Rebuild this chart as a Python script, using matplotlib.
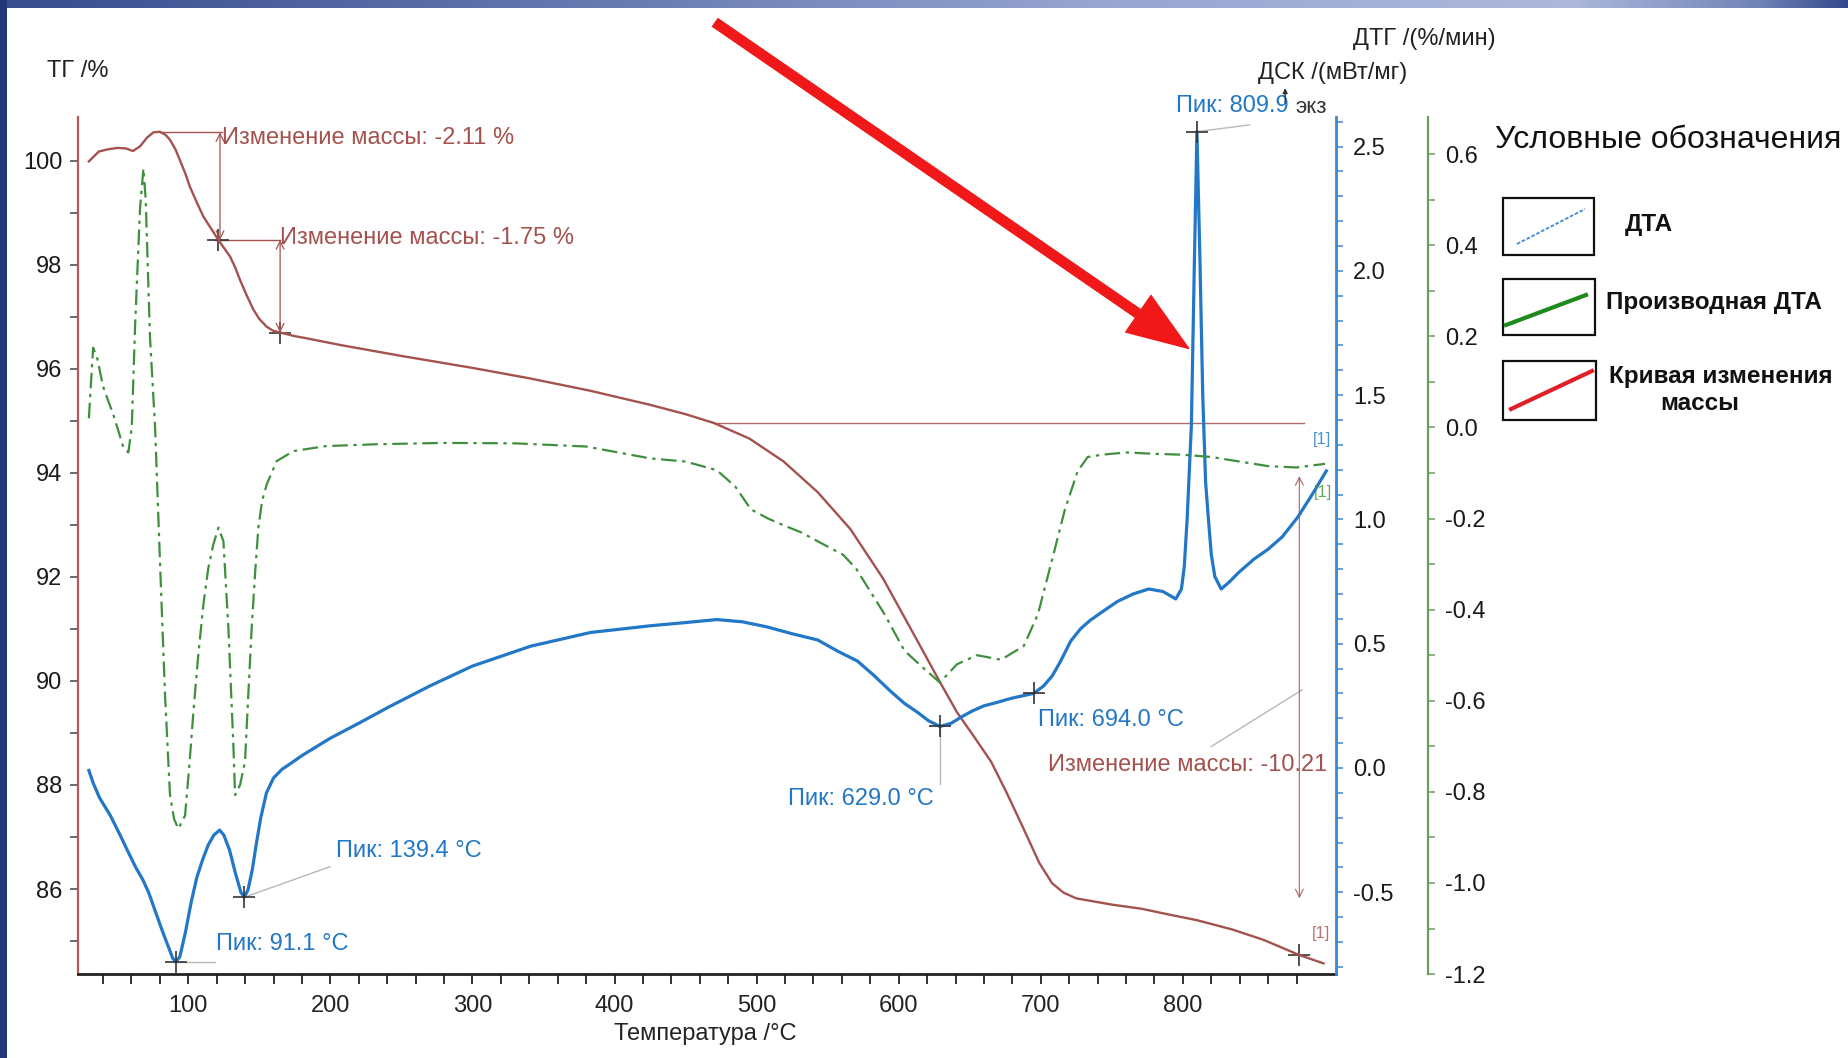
import matplotlib
matplotlib.use("Agg")
import matplotlib.pyplot as plt
import numpy as np
from matplotlib.ticker import FixedLocator, FormatStrFormatter, MultipleLocator
from matplotlib.patches import Rectangle, FancyArrowPatch
from matplotlib.lines import Line2D

plt.rcParams['font.family'] = ['Liberation Sans', 'DejaVu Sans']
plt.rcParams['axes.unicode_minus'] = False

# ---------------- data ----------------
tg_T = [30, 37, 43, 50, 56, 61, 66, 71, 75.5, 80, 84, 87, 91, 94, 98, 101, 106, 110.6, 116,
        121.2, 125, 129.4, 133, 136.4, 141, 145.8, 150, 155.2, 160, 164.6, 175, 183, 207, 250,
        300, 340, 383, 425, 450, 470, 495, 519, 543, 566, 589, 613, 629, 641, 653, 665, 676,
        686, 699, 708, 716, 725, 750, 771, 790, 810, 835, 857, 882, 899]
tg_val = [99.99, 100.18, 100.22, 100.25, 100.24, 100.19, 100.28, 100.45, 100.55, 100.56, 100.5,
          100.41, 100.22, 100.02, 99.75, 99.51, 99.2, 98.93, 98.7, 98.48, 98.33, 98.16, 97.95,
          97.71, 97.42, 97.14, 96.96, 96.81, 96.73, 96.70, 96.63, 96.59, 96.46, 96.25, 96.02,
          95.82, 95.58, 95.31, 95.13, 94.96, 94.66, 94.22, 93.63, 92.92, 91.97, 90.78, 89.98,
          89.4, 88.93, 88.45, 87.85, 87.27, 86.5, 86.11, 85.93, 85.82, 85.7, 85.62, 85.51,
          85.40, 85.22, 85.02, 84.73, 84.57]

dsc_T = [30, 33, 37.5, 45, 52, 57, 63, 68, 72, 77, 82, 86, 89, 91.1, 94, 98, 102, 106, 110, 114,
         118, 122, 125, 129, 133, 137, 139.4, 142, 145, 148, 151, 155, 160, 166, 172, 180, 200,
         220, 241, 270, 300, 341, 383, 425, 450, 472, 490, 507, 525, 543, 557, 571, 583, 594,
         604, 613, 621, 629, 637, 644, 652, 660, 670, 679, 695, 702, 708, 714, 721, 728, 735,
         745, 754, 765, 776, 786, 795, 799, 801, 803, 806, 808, 809.9, 812, 814, 816, 818, 820,
         822.5, 827, 833, 839, 850, 860, 870, 881, 891, 901]
dsc_val = [-0.01, -0.06, -0.12, -0.19, -0.27, -0.33, -0.40, -0.45, -0.50, -0.58, -0.66, -0.72,
           -0.765, -0.78, -0.76, -0.66, -0.54, -0.44, -0.37, -0.31, -0.27, -0.25, -0.27, -0.33,
           -0.42, -0.50, -0.52, -0.49, -0.41, -0.30, -0.20, -0.10, -0.04, -0.005, 0.018, 0.05,
           0.12, 0.18, 0.245, 0.33, 0.41, 0.49, 0.545, 0.572, 0.585, 0.597, 0.588, 0.568, 0.54,
           0.515, 0.47, 0.43, 0.37, 0.31, 0.26, 0.225, 0.19, 0.167, 0.18, 0.205, 0.23, 0.25,
           0.265, 0.28, 0.30, 0.33, 0.37, 0.43, 0.51, 0.56, 0.595, 0.635, 0.67, 0.70, 0.72,
           0.71, 0.68, 0.72, 0.81, 1.0, 1.38, 2.0, 2.56, 2.05, 1.5, 1.15, 1.0, 0.86, 0.77, 0.72,
           0.75, 0.785, 0.84, 0.88, 0.93, 1.01, 1.10, 1.195]

dtg_T = [30, 33, 36, 40, 44, 47, 51, 54.3, 57.8, 60.2, 62.5, 63.7, 66, 68.4, 70, 71.9, 73, 76.6,
         80, 83.6, 87.1, 90, 93, 97.7, 100.5, 103.6, 107, 110.6, 114, 117.6, 121.2, 124.7,
         128.2, 131.7, 132.9, 136.4, 139.9, 142, 144.6, 147, 149.3, 152, 155.2, 162.2, 174,
         197, 233, 280, 330, 380, 425, 450, 472, 485, 496, 508, 519, 531, 543, 561, 570, 578,
         590, 604, 618, 629, 641, 655, 672, 688, 698, 703, 708, 717, 726, 733, 743, 760, 780,
         800, 820, 840, 860, 880, 900]
dtg_val = [0.02, 0.175, 0.15, 0.09, 0.055, 0.03, -0.01, -0.044, -0.055, 0.0, 0.22, 0.31, 0.48,
           0.568, 0.50, 0.31, 0.2, 0.0, -0.29, -0.587, -0.807, -0.86, -0.881, -0.852, -0.75,
           -0.624, -0.50, -0.389, -0.31, -0.257, -0.22, -0.25, -0.44, -0.697, -0.807, -0.785,
           -0.734, -0.60, -0.44, -0.32, -0.22, -0.16, -0.125, -0.074, -0.052, -0.041, -0.037,
           -0.034, -0.035, -0.042, -0.068, -0.075, -0.094, -0.13, -0.18, -0.20, -0.215, -0.23,
           -0.25, -0.28, -0.31, -0.35, -0.41, -0.49, -0.53, -0.56, -0.52, -0.50, -0.51, -0.48,
           -0.41, -0.35, -0.29, -0.18, -0.096, -0.065, -0.06, -0.055, -0.058, -0.06, -0.065,
           -0.075, -0.085, -0.088, -0.08]

x_major = [100, 200, 300, 400, 500, 600, 700, 800]
x_minor = list(range(40, 900, 20))
tg_major = [86, 88, 90, 92, 94, 96, 98, 100]
tg_minor = list(range(85, 101))
dsc_major = [-0.5, 0.0, 0.5, 1.0, 1.5, 2.0, 2.5]
dtg_major = [-1.2, -1.0, -0.8, -0.6, -0.4, -0.2, 0.0, 0.2, 0.4, 0.6]

BROWN = '#a3524e'
BLUE = '#2277c6'
GREEN = '#3f8f3f'
LEADER = '#b8b8b8'
MARK = '#333333'

W, H = 1849, 1058
fig = plt.figure(figsize=(W / 100, H / 100), dpi=100)
fig.patch.set_facecolor('white')


def fx(x):
    return x / W


def fy(y):
    return 1 - y / H


ax = fig.add_axes([77.5 / W, 1 - 974.3 / H, (1336.3 - 77.5) / W, (974.3 - 116.7) / H])
ax.set_xlim(22, 908)
ax.set_ylim(84.36, 100.85)
ax.patch.set_alpha(0)
ax2 = ax.twinx()
ax2.set_ylim(-0.830, 2.62)
ax3 = ax.twinx()
ax3.set_ylim(-1.2005, 0.682)

for a in (ax2, ax3):
    for s in ('left', 'top', 'bottom'):
        a.spines[s].set_visible(False)
ax.spines['top'].set_visible(False)
ax.spines['right'].set_visible(False)
ax.spines['left'].set_color('#b55a5a')
ax.spines['left'].set_linewidth(1.6)
ax.spines['bottom'].set_color('#222222')
ax.spines['bottom'].set_linewidth(2.0)
ax2.spines['right'].set_color('#3a88d4')
ax2.spines['right'].set_linewidth(2.0)
ax3.spines['right'].set_position(('axes', 1.0731))
ax3.spines['right'].set_color('#6a9e5e')
ax3.spines['right'].set_linewidth(1.6)

# ticks
ax.xaxis.set_major_locator(FixedLocator(x_major))
ax.xaxis.set_minor_locator(FixedLocator(x_minor))
ax.yaxis.set_major_locator(FixedLocator(tg_major))
ax.yaxis.set_minor_locator(FixedLocator(tg_minor))
ax.tick_params(axis='x', which='both', direction='out', length=7, width=1.3, colors='#222222',
               labelsize=17, pad=8)
ax.tick_params(axis='y', which='both', direction='out', length=6, width=1.1, colors='#444444',
               labelsize=17, pad=5, labelcolor='#1a1a1a')
ax2.yaxis.set_major_locator(FixedLocator(dsc_major))
ax2.yaxis.set_minor_locator(MultipleLocator(0.1))
ax2.yaxis.set_major_formatter(FormatStrFormatter('%.1f'))
ax2.tick_params(axis='y', which='both', direction='out', length=5, width=1.1, colors='#3a88d4',
                labelsize=17, pad=7, labelcolor='#1a1a1a')
ax3.yaxis.set_major_locator(FixedLocator(dtg_major))
ax3.yaxis.set_minor_locator(MultipleLocator(0.1))
ax3.yaxis.set_major_formatter(FormatStrFormatter('%.1f'))
ax3.tick_params(axis='y', which='both', direction='out', length=5, width=1.1, colors='#6a9e5e',
                labelsize=17, pad=7, labelcolor='#1a1a1a')

# curves
ax.plot(tg_T, tg_val, color=BROWN, lw=1.7, zorder=3)
ax3.plot(dtg_T, dtg_val, color=GREEN, lw=1.6, linestyle=(0, (7, 2.5, 1.5, 2.5)), zorder=2)
ax2.plot(dsc_T, dsc_val, color=BLUE, lw=2.3, zorder=4)

# ---- TG annotations ----
ax.plot([80, 123.5], [100.55, 100.55], color=BROWN, lw=1.0)
ax.annotate('', xy=(122.3, 98.48), xytext=(122.3, 100.55),
            arrowprops=dict(arrowstyle='<->', color=BROWN, lw=0.9, mutation_scale=14,
                            shrinkA=0, shrinkB=0))
ax.text(123.5, 100.44, 'Изменение массы: -2.11 %', color=BROWN, fontsize=17, ha='left', va='center')
ax.plot([119, 164.6], [98.48, 98.48], color=BROWN, lw=1.0)
ax.annotate('', xy=(164.6, 96.70), xytext=(164.6, 98.48),
            arrowprops=dict(arrowstyle='<->', color=BROWN, lw=0.9, mutation_scale=14,
                            shrinkA=0, shrinkB=0))
ax.text(164.6, 98.52, 'Изменение массы: -1.75 %', color=BROWN, fontsize=17, ha='left', va='center')
ax.plot([121.2, 164.6], [98.48, 96.70], linestyle='none', marker='+', markersize=16, mew=1.2,
        color=MARK)
ax.plot([470, 885], [94.96, 94.96], color=BROWN, lw=1.0, alpha=0.85)
ax.annotate('', xy=(882, 85.82), xytext=(882, 93.94),
            arrowprops=dict(arrowstyle='<->', color=BROWN, lw=0.9, mutation_scale=14,
                            shrinkA=0, shrinkB=0, alpha=0.8))
ax.plot([882], [84.73], linestyle='none', marker='+', markersize=16, mew=1.2, color=MARK)
ax.plot([820, 884], [88.74, 89.83], color=LEADER, lw=1.0)
ax.text(705.2, 88.38, 'Изменение массы: -10.21', color=BROWN, fontsize=17, ha='left', va='center')
ax.text(897, 85.14, '[1]', color=BROWN, fontsize=12, ha='center', va='center', alpha=0.8)

# ---- DSC annotations ----
peaks_T = [91.1, 139.4, 629.0, 695.0, 809.9]
peaks_v = [-0.78, -0.52, 0.167, 0.30, 2.56]
ax2.plot(peaks_T, peaks_v, linestyle='none', marker='+', markersize=16, mew=1.2, color=MARK,
         zorder=5)
ax2.plot([91.1, 118.5], [-0.78, -0.78], color=LEADER, lw=1.0)
ax2.text(119.3, -0.71, 'Пик: 91.1 °C', color=BLUE, fontsize=17, ha='left', va='center')
ax2.plot([139.4, 199.8], [-0.52, -0.397], color=LEADER, lw=1.0)
ax2.text(204, -0.334, 'Пик: 139.4 °C', color=BLUE, fontsize=17, ha='left', va='center')
ax2.plot([629, 629], [0.167, -0.065], color=LEADER, lw=1.0)
ax2.text(521.9, -0.126, 'Пик: 629.0 °C', color=BLUE, fontsize=17, ha='left', va='center')
ax2.text(697.8, 0.192, 'Пик: 694.0 °C', color=BLUE, fontsize=17, ha='left', va='center')
ax2.plot([809.9, 847], [2.56, 2.587], color=LEADER, lw=1.0)
ax2.text(795, 2.663, 'Пик: 809.9', color=BLUE, fontsize=17, ha='left', va='center', clip_on=False)
ax2.text(879, 2.655, 'экз', color='#333333', fontsize=16, ha='left', va='center', clip_on=False)
ax2.annotate('', xy=(872, 2.735), xytext=(872, 2.675), annotation_clip=False,
             arrowprops=dict(arrowstyle='-|>', color='#333333', lw=1.0, mutation_scale=7,
                             shrinkA=0, shrinkB=0))
ax2.text(898, 1.32, '[1]', color=BLUE, fontsize=12, ha='center', va='center', alpha=0.8)
ax3.text(898.6, -0.144, '[1]', color=GREEN, fontsize=12, ha='center', va='center', alpha=0.8)

# axis titles
fig.text(fx(47), fy(70.7), 'ТГ /%', fontsize=17, ha='left', va='center', color='#222222')
fig.text(fx(1258), fy(73), 'ДСК /(мВт/мг)', fontsize=17, ha='left', va='center', color='#222222')
fig.text(fx(1353.5), fy(39), 'ДТГ /(%/мин)', fontsize=17, ha='left', va='center', color='#222222')
fig.text(fx(705), fy(1034), 'Температура /°C', fontsize=17, ha='center', va='center',
         color='#222222')

# ---- legend ("Условные обозначения") ----
fig.text(fx(1495), fy(140), 'Условные обозначения', fontsize=23, ha='left', va='center',
         color='#111111')
boxes = [(1503, 198, 1594, 255), (1503, 279, 1595, 335), (1503, 361, 1596, 420)]
for (x1, y1, x2, y2) in boxes:
    fig.add_artist(Rectangle((fx(x1), fy(y2)), fx(x2) - fx(x1), fy(y1) - fy(y2),
                             transform=fig.transFigure, fill=False, lw=1.6, ec='#111111'))
fig.add_artist(Line2D([fx(1517), fx(1585)], [fy(244), fy(209)], transform=fig.transFigure,
                      color='#3b8ad8', lw=1.3, linestyle=(0, (2, 1))))
fig.add_artist(Line2D([fx(1506), fx(1586)], [fy(325), fy(295)], transform=fig.transFigure,
                      color='#1e8a1e', lw=3.0))
fig.add_artist(Line2D([fx(1511), fx(1592)], [fy(409), fy(371)], transform=fig.transFigure,
                      color='#e02028', lw=3.0))
leg_font = dict(fontsize=17.5, fontweight='bold', color='#111111', va='center')
fig.text(fx(1625), fy(224), 'ДТА', ha='left', **leg_font)
fig.text(fx(1606), fy(303), 'Производная ДТА', ha='left', **leg_font)
fig.text(fx(1609), fy(376), 'Кривая изменения', ha='left', **leg_font)
fig.text(fx(1700), fy(403), 'массы', ha='center', **leg_font)

# ---- big red arrow ----
arrow = FancyArrowPatch((713 / 100, (H - 21) / 100), (1191 / 100, (H - 350) / 100),
                        transform=fig.dpi_scale_trans,
                        arrowstyle='simple,head_length=1.1,head_width=0.8,tail_width=0.17',
                        mutation_scale=40, color='#f01818', zorder=10)
fig.add_artist(arrow)

# ---- slide border strips ----
top = fig.add_axes([0, 1 - 8 / H, 1, 8 / H])
grad_pos = [0.0, 0.35, 0.6, 0.85, 0.95, 1.0]
grad_col = np.array([[0.22, 0.30, 0.56], [0.42, 0.49, 0.70], [0.60, 0.65, 0.82],
                     [0.68, 0.72, 0.86], [0.45, 0.52, 0.72], [0.20, 0.28, 0.55]])
xs = np.linspace(0, 1, 600)
rgb = np.stack([np.interp(xs, grad_pos, grad_col[:, i]) for i in range(3)], axis=-1)
top.imshow(rgb[np.newaxis, :, :], aspect='auto', extent=[0, 1, 0, 1])
top.set_axis_off()
left = fig.add_axes([0, 0, 7 / W, 1])
left.add_patch(Rectangle((0, 0), 1, 1, color='#22377a'))
left.set_xlim(0, 1)
left.set_ylim(0, 1)
left.set_axis_off()

fig.savefig('out.png', dpi=100, facecolor='white')
